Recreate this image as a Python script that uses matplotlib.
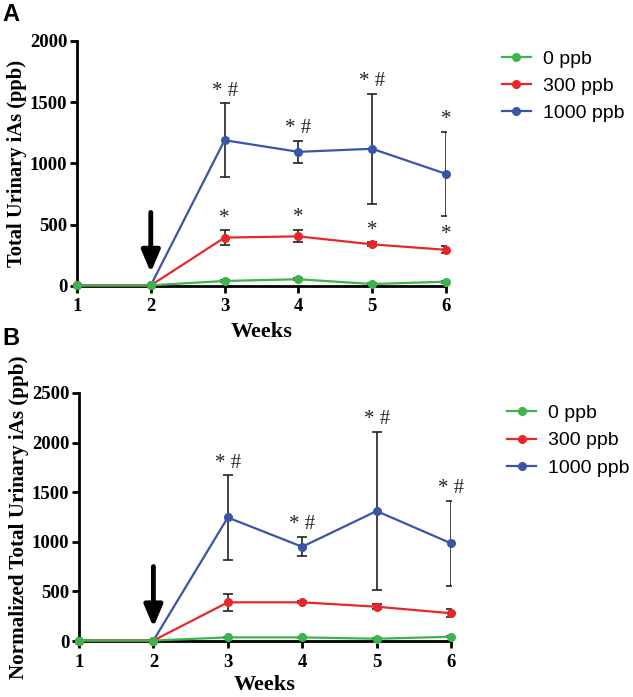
import matplotlib
matplotlib.use("Agg")
import matplotlib.pyplot as plt
import numpy as np

weeks = [1, 2, 3, 4, 5, 6]
labels = ["0 ppb", "300 ppb", "1000 ppb"]
colors = ["#3cb44b", "#e8262b", "#3b55a6"]

# Panel A
a_mean = {
    "0 ppb": [5, 5, 41, 55, 16, 35],
    "300 ppb": [5, 5, 395, 405, 340, 295],
}
a_mean["1000 ppb"] = [5, 5, 1190, 1095, 1120, 915]
a_err = {
    "0 ppb": [0, 0, 8, 8, 5, 8],
    "300 ppb": [0, 0, 58, 50, 15, 28],
    "1000 ppb": [0, 0, 300, 88, 450, 340],
}
a_annot = {
    "300 ppb": ["", "", "*", "*", "*", "*"],
    "1000 ppb": ["", "", "* #", "* #", "* #", "*"],
}

# Panel B
b_mean = {
    "0 ppb": [5, 5, 37, 37, 23, 43],
    "300 ppb": [5, 5, 390, 390, 346, 280],
    "1000 ppb": [5, 5, 1245, 950, 1310, 985],
}
b_err = {
    "0 ppb": [0, 0, 5, 5, 5, 5],
    "300 ppb": [0, 0, 88, 10, 25, 40],
    "1000 ppb": [0, 0, 425, 97, 800, 428],
}
b_annot = {
    "1000 ppb": ["", "", "* #", "* #", "* #", "* #"],
}

serif = "Liberation Serif"
sans = "Liberation Sans"

fig = plt.figure(figsize=(6.33, 6.97), dpi=100)

def draw(ax, means, errs, annots, ylim, yticks, ylabel, ylabsize, arrow, legend_y, xlabpad):
    order = ["1000 ppb", "300 ppb", "0 ppb"]
    handles = {}
    for lab in order:
        c = colors[labels.index(lab)]
        ax.errorbar(weeks, means[lab], yerr=errs[lab], fmt="none", ecolor="#222222",
                    elinewidth=1.2, capsize=3.5, capthick=1.2, zorder=2)
        h, = ax.plot(weeks, means[lab], color=c, lw=1.6, marker="o", ms=5.5,
                     zorder=3, label=lab, clip_on=False)
        handles[lab] = h
    for lab, ann in annots.items():
        for w, m, e, t in zip(weeks, means[lab], errs[lab], ann):
            if t:
                ax.annotate(t, (w, m + e), xytext=(0, 2), textcoords="offset points",
                            ha="center", va="bottom", fontsize=15, family=serif,
                            color="#222222")
    ax.annotate("", xy=(2, arrow[1]), xytext=(2, arrow[0]),
                arrowprops=dict(arrowstyle="-|>,head_width=0.55,head_length=1.3",
                                color="black", lw=3.5, shrinkA=0, shrinkB=0))
    ax.set_xlim(1, 6)
    ax.set_ylim(*ylim)
    ax.set_xticks(weeks)
    ax.set_yticks(yticks)
    for s in ["top", "right"]:
        ax.spines[s].set_visible(False)
    for s in ["left", "bottom"]:
        ax.spines[s].set_linewidth(2)
    ax.tick_params(axis="y", width=2, length=5, direction="out", pad=2)
    ax.tick_params(axis="x", width=2, length=5, direction="out", pad=4)
    for t in ax.get_xticklabels() + ax.get_yticklabels():
        t.set_fontfamily(serif)
        t.set_fontweight("bold")
        t.set_fontsize(13.5)
    ax.set_xlabel("Weeks", family=serif, fontweight="bold", fontsize=16, labelpad=xlabpad)
    ax.set_ylabel(ylabel, family=serif, fontweight="bold", fontsize=ylabsize, labelpad=2)
    hs = [handles[l] for l in labels]
    ax.legend(hs, labels, loc="upper left", bbox_to_anchor=(1.13, legend_y),
              frameon=False, prop={"family": sans, "size": 14},
              handlelength=1.5, handletextpad=0.6, labelspacing=0.5,
              borderaxespad=0)

axA = fig.add_axes([0.1216, 0.5897, 0.583, 0.3515])
draw(axA, a_mean, a_err, a_annot, (0, 2000), [0, 500, 1000, 1500, 2000],
     "Total Urinary iAs (ppb)", 14.8, (600, 110), 0.995, 5)

axB = fig.add_axes([0.1248, 0.0803, 0.5877, 0.3559])
draw(axB, b_mean, b_err, b_annot, (0, 2500), [0, 500, 1000, 1500, 2000, 2500],
     "Normalized Total Urinary iAs (ppb)", 15.2, (750, 140), 0.985, 3)

fig.text(0.004, 0.979, "A", family=sans, fontweight="bold", fontsize=17, va="center")
fig.text(0.004, 0.515, "B", family=sans, fontweight="bold", fontsize=17, va="center")

fig.savefig("out.png", dpi=100)
